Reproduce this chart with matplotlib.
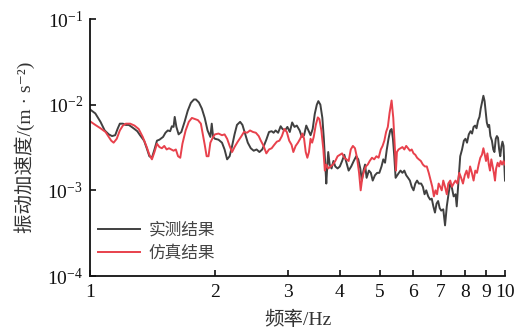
import matplotlib
matplotlib.use("Agg")
import matplotlib.pyplot as plt
from matplotlib.ticker import FixedLocator, NullLocator, LogLocator, LogFormatterMathtext

plt.rcParams['font.family'] = ['Liberation Serif', 'Noto Sans CJK SC', 'DejaVu Serif']
plt.rcParams['mathtext.fontset'] = 'stix'

# measured result (实测结果)
meas_f = [1.000, 1.03, 1.06, 1.085, 1.11, 1.13, 1.15, 1.165, 1.18, 1.20, 1.22, 1.24, 1.26, 1.28, 1.30,
          1.32, 1.35, 1.37, 1.39, 1.41, 1.43, 1.45, 1.47, 1.50, 1.52, 1.54, 1.56, 1.575, 1.59, 1.60,
          1.615, 1.635, 1.66, 1.69, 1.72, 1.75, 1.78, 1.80, 1.83, 1.86, 1.89, 1.92, 1.95, 1.965, 1.98,
          2.00, 2.04, 2.08, 2.11, 2.14, 2.17, 2.20, 2.23, 2.26, 2.30, 2.33, 2.36, 2.40, 2.44, 2.48,
          2.52, 2.56, 2.60, 2.63, 2.66, 2.70, 2.74, 2.77, 2.80, 2.84, 2.88, 2.91, 2.95, 2.99, 3.03,
          3.07, 3.11, 3.15, 3.20, 3.24, 3.28, 3.32, 3.36, 3.40, 3.44, 3.48, 3.52, 3.55, 3.59, 3.63,
          3.66, 3.69, 3.71, 3.73, 3.75, 3.78, 3.82, 3.86, 3.90, 3.95, 4.00, 4.05, 4.10, 4.15, 4.20,
          4.26, 4.32, 4.38, 4.43, 4.48, 4.52, 4.56, 4.60, 4.64, 4.70, 4.75, 4.80, 4.86, 4.92, 4.98,
          5.04, 5.09, 5.14, 5.19, 5.24, 5.29, 5.33, 5.37, 5.41, 5.45, 5.50, 5.55, 5.60, 5.66, 5.72,
          5.78, 5.84, 5.90, 5.96, 6.02, 6.08, 6.14, 6.20, 6.28, 6.34, 6.40, 6.46, 6.53, 6.60, 6.66,
          6.72, 6.78, 6.84, 6.90, 6.96, 7.02, 7.10, 7.17, 7.24, 7.32, 7.38, 7.44, 7.52, 7.60, 7.65,
          7.72, 7.80, 7.88, 7.96, 8.03, 8.10, 8.18, 8.26, 8.33, 8.40, 8.47, 8.54, 8.61, 8.68, 8.74,
          8.80, 8.87, 8.93, 8.98, 9.04, 9.10, 9.16, 9.22, 9.30, 9.37, 9.43, 9.50, 9.56, 9.62, 9.68,
          9.74, 9.80, 9.86, 9.92, 10.0]
meas_v = [0.0088, 0.0079, 0.0063, 0.0050, 0.0045, 0.0043, 0.0044, 0.0052, 0.0060, 0.0060, 0.0058, 0.0058, 0.0055, 0.0052, 0.0049,
          0.0044, 0.0038, 0.0031, 0.0025, 0.0024, 0.0030, 0.0038, 0.0039, 0.0042, 0.0047, 0.0050, 0.0049, 0.0056, 0.0055, 0.0072,
          0.0055, 0.0045, 0.0048, 0.0063, 0.0085, 0.0105, 0.0115, 0.0115, 0.0106, 0.0090, 0.0070, 0.0050, 0.0042, 0.0060, 0.0042,
          0.0040, 0.0039, 0.0036, 0.0030, 0.0023, 0.0025, 0.0033, 0.0045, 0.0058, 0.0063, 0.0058, 0.0047, 0.0036, 0.0031, 0.0029,
          0.0030, 0.0028, 0.0030, 0.0034, 0.0039, 0.0048, 0.0049, 0.0047, 0.0050, 0.0047, 0.0056, 0.0052, 0.0050, 0.0055, 0.0048,
          0.0062, 0.0055, 0.0057, 0.0050, 0.0042, 0.0044, 0.0057, 0.0050, 0.0044, 0.0052, 0.0078, 0.0100, 0.0110, 0.0100, 0.0070,
          0.0040, 0.0020, 0.0012, 0.0019, 0.0028, 0.0020, 0.0018, 0.0022, 0.0019, 0.0018, 0.0019, 0.0022, 0.0026, 0.0021, 0.0017,
          0.0019, 0.0022, 0.0025, 0.0023, 0.0018, 0.0013, 0.0017, 0.0020, 0.0014, 0.0017, 0.0016, 0.0013, 0.0015, 0.0016, 0.0016,
          0.0019, 0.0023, 0.0021, 0.0030, 0.0040, 0.0050, 0.0052, 0.0040, 0.0025, 0.0014, 0.0015, 0.0016, 0.0017, 0.0016, 0.0017,
          0.0015, 0.0014, 0.0013, 0.0011, 0.0010, 0.0012, 0.0013, 0.0012, 0.0012, 0.0011, 0.0009, 0.0010, 0.00085, 0.00078, 0.00080,
          0.00065, 0.00055, 0.00070, 0.00075, 0.00062, 0.00058, 0.00060, 0.00039, 0.00065, 0.00095, 0.0012, 0.0011, 0.00085, 0.00090, 0.00065,
          0.0012, 0.0025, 0.0030, 0.0038, 0.0040, 0.0036, 0.0045, 0.0049, 0.0046, 0.0055, 0.0057, 0.0053, 0.0065, 0.0072, 0.0090,
          0.0105, 0.0127, 0.0110, 0.0085, 0.0062, 0.0055, 0.0058, 0.0043, 0.0038, 0.0030, 0.0028, 0.0040, 0.0043, 0.0041, 0.0030,
          0.0025, 0.0032, 0.0037, 0.0033, 0.0013]

# simulation result (仿真结果)
sim_f = [1.000, 1.03, 1.06, 1.09, 1.11, 1.125, 1.14, 1.16, 1.18, 1.20, 1.22, 1.25, 1.28, 1.31, 1.34,
         1.37, 1.39, 1.41, 1.43, 1.45, 1.47, 1.49, 1.51, 1.53, 1.55, 1.57, 1.59, 1.61, 1.63, 1.65,
         1.67, 1.70, 1.73, 1.76, 1.79, 1.82, 1.85, 1.87, 1.89, 1.91, 1.93, 1.95, 1.98, 2.00, 2.04,
         2.08, 2.11, 2.14, 2.17, 2.20, 2.23, 2.27, 2.31, 2.35, 2.39, 2.43, 2.47, 2.51, 2.55, 2.58,
         2.62, 2.66, 2.70, 2.74, 2.78, 2.82, 2.86, 2.90, 2.94, 2.98, 3.02, 3.06, 3.09, 3.13, 3.17,
         3.21, 3.25, 3.28, 3.31, 3.34, 3.37, 3.40, 3.43, 3.46, 3.50, 3.54, 3.57, 3.61, 3.65, 3.68,
         3.71, 3.75, 3.80, 3.85, 3.90, 3.95, 4.00, 4.05, 4.10, 4.15, 4.20, 4.25, 4.30, 4.35, 4.40,
         4.45, 4.49, 4.53, 4.58, 4.62, 4.67, 4.72, 4.78, 4.84, 4.90, 4.96, 5.02, 5.07, 5.12, 5.17,
         5.22, 5.27, 5.33, 5.38, 5.43, 5.46, 5.49, 5.54, 5.60, 5.66, 5.72, 5.78, 5.84, 5.90, 5.96,
         6.02, 6.08, 6.14, 6.20, 6.27, 6.34, 6.41, 6.48, 6.55, 6.62, 6.68, 6.74, 6.80, 6.86, 6.92,
         6.98, 7.04, 7.10, 7.17, 7.24, 7.30, 7.38, 7.45, 7.52, 7.60, 7.68, 7.76, 7.84, 7.92, 8.00,
         8.08, 8.16, 8.24, 8.32, 8.40, 8.48, 8.56, 8.64, 8.72, 8.80, 8.87, 8.94, 9.00, 9.07, 9.14,
         9.20, 9.27, 9.34, 9.40, 9.46, 9.52, 9.60, 9.68, 9.76, 9.84, 9.92, 10.0]
sim_v = [0.0064, 0.0058, 0.0053, 0.0048, 0.0042, 0.0038, 0.0036, 0.0040, 0.0050, 0.0057, 0.0060, 0.0060, 0.0057, 0.0052, 0.0042,
         0.0032, 0.0026, 0.0023, 0.0028, 0.0035, 0.0032, 0.0031, 0.0033, 0.0030, 0.0031, 0.0030, 0.0029, 0.0030, 0.0025, 0.0024,
         0.0035, 0.0050, 0.0063, 0.0070, 0.0068, 0.0066, 0.0060, 0.0045, 0.0034, 0.0025, 0.0025, 0.0036, 0.0042, 0.0045, 0.0046,
         0.0044, 0.0045, 0.0040, 0.0033, 0.0028, 0.0032, 0.0037, 0.0042, 0.0048, 0.0047, 0.0050, 0.0048, 0.0047, 0.0043, 0.0038,
         0.0033, 0.0027, 0.0030, 0.0031, 0.0034, 0.0037, 0.0038, 0.0043, 0.0052, 0.0048, 0.0038, 0.0034, 0.0028, 0.0033, 0.0036,
         0.0040, 0.0046, 0.0040, 0.0028, 0.0024, 0.0028, 0.0040, 0.0036, 0.0042, 0.0058, 0.0071, 0.0068, 0.0050, 0.0030, 0.0017,
         0.0020, 0.0018, 0.0019, 0.0020, 0.0022, 0.0025, 0.0026, 0.0027, 0.0024, 0.0023, 0.0022, 0.0030, 0.0033, 0.0031, 0.0024,
         0.0016, 0.0010, 0.0014, 0.0017, 0.0019, 0.0020, 0.0022, 0.0024, 0.0023, 0.0025, 0.0024, 0.0030, 0.0033, 0.0038, 0.0048,
         0.0055, 0.0080, 0.0112, 0.0070, 0.0030, 0.0017, 0.0028, 0.0030, 0.0031, 0.0032, 0.0030, 0.0033, 0.0031, 0.0029, 0.0030,
         0.0027, 0.0026, 0.0024, 0.0023, 0.0022, 0.0020, 0.0019, 0.0019, 0.0016, 0.0013, 0.0011, 0.00085, 0.0010, 0.0009, 0.0012,
         0.0011, 0.0010, 0.0013, 0.0011, 0.0009, 0.0012, 0.0013, 0.0011, 0.0012, 0.0013, 0.0012, 0.0016, 0.0014, 0.0012, 0.0015,
         0.0017, 0.0014, 0.0019, 0.0016, 0.0013, 0.0017, 0.0016, 0.0020, 0.0024, 0.0026, 0.0031, 0.0026, 0.0022, 0.0027, 0.0020,
         0.0017, 0.0023, 0.0019, 0.0016, 0.0013, 0.0018, 0.0021, 0.0019, 0.0022, 0.0020, 0.0022, 0.0020]

x_ticks = [1, 2, 3, 4, 5, 6, 7, 8, 9, 10]
x_labels = ['1', '2', '3', '4', '5', '6', '7', '8', '9', '10']

fig = plt.figure(figsize=(5.22, 3.31), dpi=100)
ax = fig.add_axes([90/522, 1-276/331, 415/522, 257/331])

ax.plot(meas_f, meas_v, color='#404040', lw=1.4, label='实测结果')
ax.plot(sim_f, sim_v, color='#e8414c', lw=1.4, label='仿真结果')

ax.set_xscale('log')
ax.set_yscale('log')
ax.set_xlim(1, 10)
ax.set_ylim(1e-4, 1e-1)

ax.xaxis.set_major_locator(FixedLocator(x_ticks))
ax.set_xticklabels(x_labels)
ax.xaxis.set_minor_locator(NullLocator())
ax.yaxis.set_major_locator(LogLocator(base=10, numticks=10))
ax.yaxis.set_major_formatter(LogFormatterMathtext())
ax.yaxis.set_minor_locator(NullLocator())

for s in ['top', 'right']:
    ax.spines[s].set_visible(False)
for s in ['left', 'bottom']:
    ax.spines[s].set_linewidth(1.3)
    ax.spines[s].set_color('#111111')

ax.tick_params(direction='in', length=4, width=1.2, labelsize=14, colors='#111111', pad=6)
ax.tick_params(axis='y', pad=5)

ax.set_xlabel('频率/Hz', fontsize=14, color='#333333', labelpad=7)
ax.set_ylabel('振动加速度/(m · s⁻²)', fontsize=14, color='#333333', labelpad=9)

leg = ax.legend(loc='lower left', bbox_to_anchor=(8/415, 0.055), frameon=False, fontsize=12,
                handlelength=2.5, handletextpad=0.55, labelspacing=0.45, borderaxespad=0, borderpad=0)
for t in leg.get_texts():
    t.set_color('#444444')

fig.savefig('out.png', dpi=100)
